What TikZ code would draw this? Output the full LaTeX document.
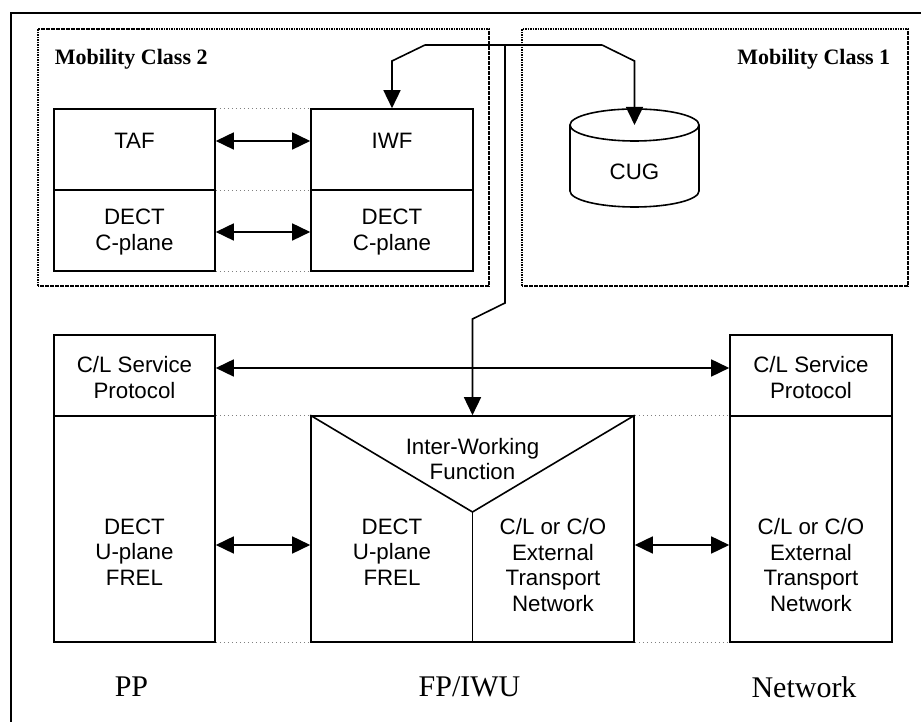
\documentclass[tikz,border=0pt]{standalone}
\usepackage{fontspec}
\setmainfont{Liberation Serif}
\setsansfont{Liberation Sans}
\usetikzlibrary{arrows.meta}
\tikzset{
	blk_b/.style = {rectangle, draw=black, line width=1.6pt, inner sep=0pt},
	txt_s/.style = {align=center, inner sep=0pt,
		font=\sffamily\fontsize{22.3}{25.5}\selectfont},
	ttl_m/.style = {inner sep=0pt, font=\bfseries\fontsize{22}{24}\selectfont},
	ttl_p/.style = {inner sep=0pt, font=\fontsize{30}{32}\selectfont},
	mob_d/.style = {draw=black, line width=2.4pt, dash pattern=on 1.6pt off 0.9pt},
	lay_d/.style = {draw=gray, line width=1pt, dash pattern=on 1.5pt off 2.5pt}
}

\begin{document}
\begin{tikzpicture}[x=1pt, y=1pt, line width=1.6pt,
	>={Triangle[length=18pt, width=17pt]}]
\useasboundingbox (0,0) rectangle (921,722);
% outer frame
\draw (11,-20) -- (11,709) -- (940,709);
% mobility classes
\draw [mob_d] (38,436) rectangle (489,693);
\draw [mob_d] (522,436) rectangle (908,693);
\node [ttl_m, anchor=base west] (mc2) at (54,657) {Mobility Class 2};
\node [ttl_m, anchor=base east] (mc1) at (891,657) {Mobility Class 1};

% class 2 stacks
\node [blk_b, minimum width=161pt, minimum height=81pt] (taf) at (134.5,572.5) {};
\node [blk_b, minimum width=161pt, minimum height=81pt] (cpl) at (134.5,491.5) {};
\node [blk_b, minimum width=162pt, minimum height=81pt] (iwf) at (392,572.5) {};
\node [blk_b, minimum width=162pt, minimum height=81pt] (cpr) at (392,491.5) {};
\node [txt_s] (tafT) at (134.5,581) {TAF};
\node [txt_s] (iwfT) at (392,581) {IWF};
\node [txt_s] (cplT) at (134.5,490) {DECT\\C-plane};
\node [txt_s] (cprT) at (392,490) {DECT\\C-plane};
\draw [lay_d] (taf.north east) -- (iwf.north west);
\draw [lay_d] (taf.south east) -- (iwf.south west);
\draw [lay_d] (cpl.south east) -- (cpr.south west);
\draw [<->] (tafT -| taf.east) -- (tafT -| iwf.west);
\draw [<->] (cplT -| cpl.east) -- (cplT -| cpr.west);

% CUG database
\draw (634.5,597) ellipse [x radius=64.5pt, y radius=16pt];
\draw (570,597) -- (570,531) arc [start angle=180, end angle=360,
	x radius=64.5pt, y radius=16pt] -- (699,597);
\node [txt_s] (cug) at (634.5,550) {CUG};
\coordinate (cugtop) at (634.5,597);

% lower stacks
\node [blk_b, minimum width=161pt, minimum height=81pt] (ppcl) at (134.5,346.5) {};
\node [blk_b, minimum width=161pt, minimum height=226pt] (ppu) at (134.5,193) {};
\node [blk_b, minimum width=323pt, minimum height=226pt] (iwu) at (472.5,193) {};
\node [blk_b, minimum width=162pt, minimum height=81pt] (ntcl) at (811,346.5) {};
\node [blk_b, minimum width=162pt, minimum height=226pt] (ntu) at (811,193) {};
\coordinate (vtip) at (472.5,210);
\draw (iwu.north west) -- (vtip) -- (iwu.north east);
\draw (vtip) -- (iwu.south);
\node [txt_s] (ppclT) at (134.5,344.5) {C/L Service\\Protocol};
\node [txt_s] (ntclT) at (811,344.5) {C/L Service\\Protocol};
\node [txt_s] (ppuT) at (134.5,170) {DECT\\U-plane\\FREL};
\node [txt_s] (iwdT) at (392,170) {DECT\\U-plane\\FREL};
\node [txt_s] (iwfnT) at (472.5,263) {Inter-Working\\Function};
\node [txt_s] (iwcT) at (553,157) {C/L or C/O\\External\\Transport\\Network};
\node [txt_s] (ntuT) at (811,157) {C/L or C/O\\External\\Transport\\Network};
\draw [lay_d] (ppu.north east) -- (iwu.north west);
\draw [lay_d] (ppu.south east) -- (iwu.south west);
\draw [lay_d] (iwu.north east) -- (ntu.north west);
\draw [lay_d] (iwu.south east) -- (ntu.south west);
\draw [<->] (ppcl.east |- 0,354) -- (ntcl.west |- 0,354);
\draw [<->] (ppu.east |- 0,177) -- (iwu.west |- 0,177);
\draw [<->] (iwu.east |- 0,177) -- (ntu.west |- 0,177);

% signalling line
\coordinate (jl) at (425,677);
\coordinate (jr) at (602,677);
\coordinate (jm) at (505,677);
\draw (jl) -- (jr);
\draw [->] (jl) -- (392,661) -- (iwf.north);
\draw [->] (jr) -- (634.5,661) -- (cugtop);
\draw [->] (jm) -- (505,419) -- (472.5,403) -- (iwu.north);

% places
\node [ttl_p] (pp) at (131.5,35) {PP};
\node [ttl_p] (fp) at (469.5,35) {FP/IWU};
\node [ttl_p] (net) at (804,35) {Network};
\end{tikzpicture}
\end{document}
